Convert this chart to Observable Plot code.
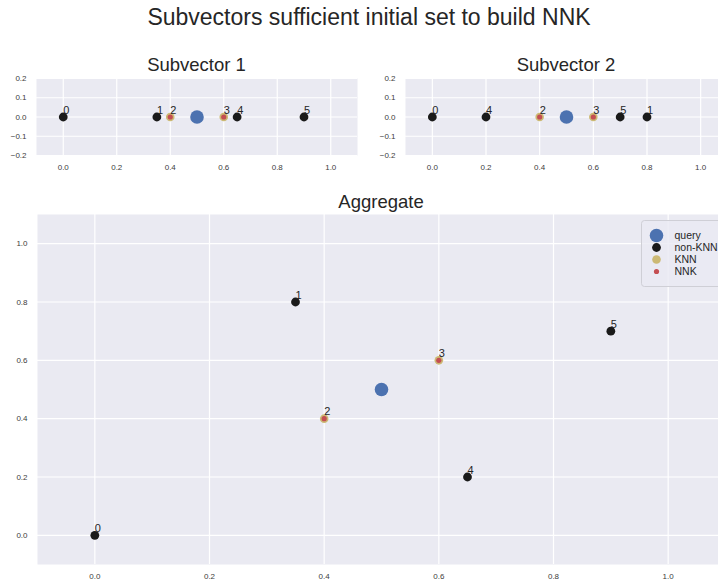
<!DOCTYPE html>
<html>
<head>
<meta charset="utf-8">
<script src="https://cdn.jsdelivr.net/npm/d3@7"></script>
<script src="https://cdn.jsdelivr.net/npm/@observablehq/plot@0.6"></script>
<style>
  html, body { margin: 0; padding: 0; background: #ffffff; }
  #page {
    position: relative; width: 718px; height: 585px; overflow: hidden;
    font-family: "Liberation Sans", Arial, sans-serif; color: #262626;
  }
  .abs { position: absolute; }
  .abs svg { max-width: none !important; display: block; }
  .title { position: absolute; text-align: center; line-height: 1; white-space: nowrap; z-index: 2; }
</style>
</head>
<body>
<div id="page">
  <div class="title" style="left:0;width:738px;top:5.5px;font-size:23px;">Subvectors sufficient initial set to build NNK</div>
  <div class="title" style="left:0;width:393px;top:56px;font-size:18.5px;">Subvector 1</div>
  <div class="title" style="left:366px;width:400px;top:56px;font-size:18.5px;">Subvector 2</div>
  <div class="title" style="left:0;width:762px;top:192.5px;font-size:18.5px;">Aggregate</div>
  <div id="sub1" class="abs" style="left:0;top:70px;width:360px;"></div>
  <div id="sub2" class="abs" style="left:369px;top:70px;width:358px;"></div>
  <div id="agg" class="abs" style="left:0;top:200px;width:725px;"></div>
  <div id="legend" class="abs" style="left:641px;top:220px;width:100px;z-index:3;"></div>
</div>
<script>
// Point ids and their coordinates in each subvector
const ids = ["0", "1", "2", "3", "4", "5"];
const sub1 = [0.0, 0.35, 0.4, 0.6, 0.65, 0.9];
const sub2 = [0.0, 0.8, 0.4, 0.6, 0.2, 0.7];
const query = [0.5, 0.5];
const knnIds = ["2", "3"];
const nnkIds = ["2", "3"];
const legendLabels = ["query", "non-KNN", "KNN", "NNK"];
const ticksUnit = [0.0, 0.2, 0.4, 0.6, 0.8, 1.0];
const ticksSub = [-0.2, -0.1, 0.0, 0.1, 0.2];

// styling
const BG = "#EAEAF2";
const COLORS = {query: "#4C72B0", "non-KNN": "#1A1A1A", KNN: "#CCB974", NNK: "#C44E52"};
const RADIUS = {query: 6.8, "non-KNN": 4.4, KNN: 4.3, NNK: 2.6};
const FONT = "'Liberation Sans', Arial, sans-serif";

const points = ids.map((id, i) => ({
  id, s1: sub1[i], s2: sub2[i],
  knn: knnIds.includes(id), nnk: nnkIds.includes(id)
}));
const queryPoint = [{s1: query[0], s2: query[1]}];

function panel({xKey, yKey, width, height, margin, yDomain, yTicks}) {
  const yAcc = yKey ? (d => d[yKey]) : (() => 0);
  const xAcc = d => d[xKey];
  return Plot.plot({
    width, height,
    marginLeft: margin[3], marginRight: margin[1], marginTop: margin[0], marginBottom: margin[2],
    style: {fontFamily: FONT, fontSize: "8px", color: "#3d3d3d", background: "transparent",
      overflow: "visible", maxWidth: "none"},
    x: {domain: [-0.1, 1.1]},
    y: {domain: yDomain},
    marks: [
      Plot.frame({fill: BG, stroke: null}),
      Plot.gridX(ticksUnit, {stroke: "#ffffff", strokeOpacity: 1, strokeWidth: 1.2}),
      Plot.gridY(yTicks, {stroke: "#ffffff", strokeOpacity: 1, strokeWidth: 1.2}),
      Plot.axisX(ticksUnit, {tickSize: 0, tickPadding: 9, tickFormat: d3.format(".1f"), label: null}),
      Plot.axisY(yTicks, {tickSize: 0, tickPadding: 10, tickFormat: d3.format(".1f"), label: null}),
      Plot.dot(queryPoint, {x: xAcc, y: yAcc, r: RADIUS.query, fill: COLORS.query}),
      Plot.dot(points.filter(d => !d.knn), {x: xAcc, y: yAcc, r: RADIUS["non-KNN"], fill: COLORS["non-KNN"]}),
      Plot.dot(points.filter(d => d.knn), {x: xAcc, y: yAcc, r: RADIUS.KNN, fill: COLORS.KNN}),
      Plot.dot(points.filter(d => d.nnk), {x: xAcc, y: yAcc, r: RADIUS.NNK, fill: COLORS.NNK}),
      Plot.text(points, {x: xAcc, y: yAcc, text: "id", textAnchor: "start", lineAnchor: "bottom",
        dy: -3.5, fontSize: 11, fill: "#262626"})
    ]
  });
}

document.getElementById("sub1").append(panel({
  xKey: "s1", yKey: null, width: 360, height: 105, margin: [8, 3, 20, 36],
  yDomain: [-0.2, 0.2], yTicks: ticksSub
}));
document.getElementById("sub2").append(panel({
  xKey: "s2", yKey: null, width: 358, height: 105, margin: [8, 0, 20, 36],
  yDomain: [-0.2, 0.2], yTicks: ticksSub
}));
document.getElementById("agg").append(panel({
  xKey: "s1", yKey: "s2", width: 725, height: 385, margin: [14, 0, 21, 37],
  yDomain: [-0.1, 1.1], yTicks: ticksUnit
}));

// legend box
document.getElementById("legend").append(Plot.plot({
  width: 100, height: 66, margin: 0,
  style: {fontFamily: FONT, fontSize: "10.5px", background: "transparent", overflow: "visible", maxWidth: "none"},
  x: {type: "identity", axis: null},
  y: {type: "point", domain: legendLabels, range: [9, 57], axis: null},
  r: {type: "identity"},
  color: {domain: legendLabels, range: legendLabels.map(k => COLORS[k])},
  marks: [
    Plot.frame({fill: BG, fillOpacity: 0.8, stroke: "#cfcfd6", rx: 3}),
    Plot.dot(legendLabels, {x: 15, y: d => d, r: d => RADIUS[d], fill: d => d}),
    Plot.text(legendLabels, {x: 33, y: d => d, text: d => d, textAnchor: "start",
      fontSize: 10.5, fill: "#262626"})
  ]
}));
</script>
</body>
</html>
